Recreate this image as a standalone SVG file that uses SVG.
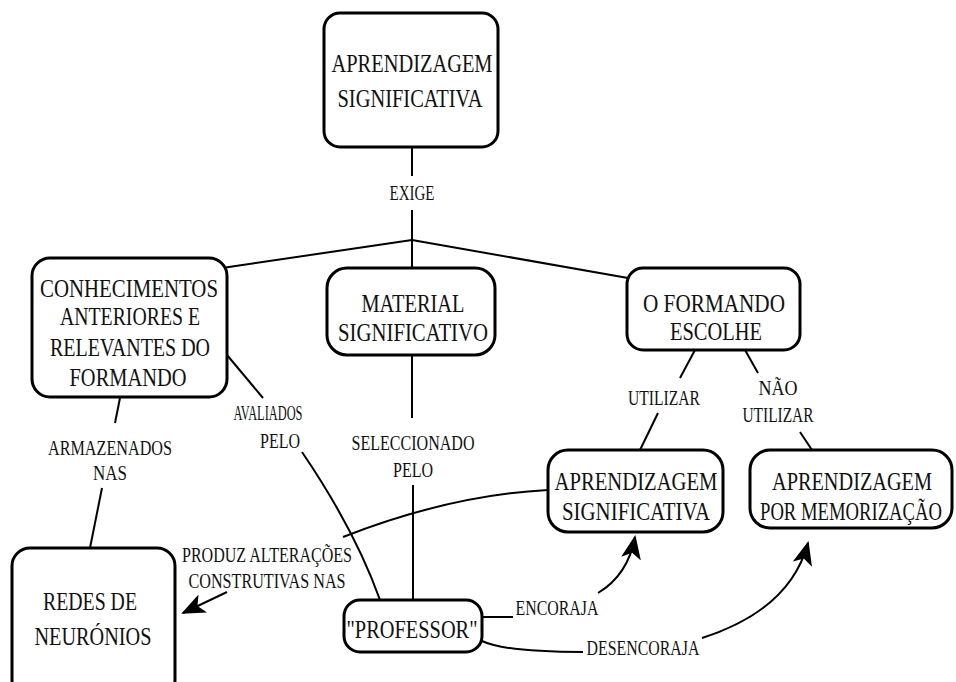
<svg xmlns="http://www.w3.org/2000/svg" width="956" height="682" viewBox="0 0 956 682">
<defs>
<marker id="ah" markerUnits="userSpaceOnUse" markerWidth="24" markerHeight="20" refX="22" refY="10" orient="auto">
<path d="M0,0 L24,10 L0,20 L6,10 Z" fill="#000"/>
</marker>
<style>
.box{fill:#fff;stroke:#000;stroke-width:3}
.bt{font-family:"Liberation Serif",serif;font-size:26px;fill:#111;text-anchor:middle}
.bs{font-family:"Liberation Serif",serif;font-size:21px;fill:#111;text-anchor:middle}
.bx{font-family:"Liberation Serif",serif;font-size:19px;fill:#111;text-anchor:middle}
.lt{font-family:"Liberation Serif",serif;font-size:20px;fill:#111;text-anchor:middle}
.ln{fill:none;stroke:#000;stroke-width:2}
</style>
</defs>
<rect width="956" height="682" fill="#fff"/>
<g id="connectors">
<path class="ln" d="M412,147 L412,176"/>
<path class="ln" d="M412,210 L412,240"/>
<path class="ln" d="M412,240 L222,268"/>
<path class="ln" d="M412,240 L412,268"/>
<path class="ln" d="M412,240 L628,278"/>
<path class="ln" d="M120,398 L115,423"/>
<path class="ln" d="M102,488 L90,548"/>
<path class="ln" d="M227,355 L263,398"/>
<path class="ln" d="M302,452 Q355,530 380,600"/>
<path class="ln" d="M412,355 L412,418"/>
<path class="ln" d="M413,485 L413,600"/>
<path class="ln" d="M695,350 L680,378"/>
<path class="ln" d="M658,413 L640,450"/>
<path class="ln" d="M745,350 L758,373"/>
<path class="ln" d="M800,432 L812,450"/>
<path class="ln" d="M548,490 Q450,495 343,537"/>
<path class="ln" d="M227,592 L183,613" marker-end="url(#ah)"/>
<path class="ln" d="M482,617 L513,617"/>
<path class="ln" d="M598,593 Q628,575 635,537" marker-end="url(#ah)"/>
<path class="ln" d="M482,641 Q505,652 583,652"/>
<path class="ln" d="M702,638 Q790,610 808,543" marker-end="url(#ah)"/>
</g>
<g id="labels">
<text class="lt" x="412" y="200" textLength="45" lengthAdjust="spacingAndGlyphs">EXIGE</text>
<text class="lt" x="110" y="455" textLength="124" lengthAdjust="spacingAndGlyphs">ARMAZENADOS</text>
<text class="lt" x="110" y="480" textLength="34" lengthAdjust="spacingAndGlyphs">NAS</text>
<text class="lt" x="268" y="420" textLength="69" lengthAdjust="spacingAndGlyphs">AVALIADOS</text>
<text class="lt" x="280" y="448" textLength="40" lengthAdjust="spacingAndGlyphs">PELO</text>
<text class="lt" x="413" y="450" textLength="123" lengthAdjust="spacingAndGlyphs">SELECCIONADO</text>
<text class="lt" x="413" y="477" textLength="40" lengthAdjust="spacingAndGlyphs">PELO</text>
<text class="lt" x="664" y="405" textLength="72" lengthAdjust="spacingAndGlyphs">UTILIZAR</text>
<text class="lt" x="778" y="395" textLength="39" lengthAdjust="spacingAndGlyphs">NÃO</text>
<text class="lt" x="778" y="422" textLength="71" lengthAdjust="spacingAndGlyphs">UTILIZAR</text>
<text class="lt" x="267" y="562" textLength="170" lengthAdjust="spacingAndGlyphs">PRODUZ ALTERAÇÕES</text>
<text class="lt" x="267" y="588" textLength="157" lengthAdjust="spacingAndGlyphs">CONSTRUTIVAS NAS</text>
<text class="lt" x="557" y="615" textLength="83" lengthAdjust="spacingAndGlyphs">ENCORAJA</text>
<text class="lt" x="643" y="655" textLength="113" lengthAdjust="spacingAndGlyphs">DESENCORAJA</text>
</g>
<g id="n-top">
<rect class="box" x="324" y="13" width="174" height="134" rx="16"/>
<text class="bt" x="412" y="72" textLength="161" lengthAdjust="spacingAndGlyphs">APRENDIZAGEM</text>
<text class="bt" x="410" y="107" textLength="145" lengthAdjust="spacingAndGlyphs">SIGNIFICATIVA</text>
</g>
<g id="n-conhecimentos">
<rect class="box" x="32" y="258" width="195" height="139" rx="18"/>
<text class="bt" x="129" y="297" textLength="178" lengthAdjust="spacingAndGlyphs">CONHECIMENTOS</text>
<text class="bt" x="130" y="325" textLength="140" lengthAdjust="spacingAndGlyphs">ANTERIORES E</text>
<text class="bt" x="130" y="356" textLength="160" lengthAdjust="spacingAndGlyphs">RELEVANTES DO</text>
<text class="bt" x="128" y="386" textLength="117" lengthAdjust="spacingAndGlyphs">FORMANDO</text>
</g>
<g id="n-material">
<rect class="box" x="327" y="268" width="168" height="87" rx="20"/>
<text class="bt" x="413" y="312" textLength="103" lengthAdjust="spacingAndGlyphs">MATERIAL</text>
<text class="bt" x="413" y="341" textLength="150" lengthAdjust="spacingAndGlyphs">SIGNIFICATIVO</text>
</g>
<g id="n-escolhe">
<rect class="box" x="627" y="268" width="173" height="82" rx="16"/>
<text class="bt" x="714" y="312" textLength="142" lengthAdjust="spacingAndGlyphs">O FORMANDO</text>
<text class="bt" x="716" y="340" textLength="92" lengthAdjust="spacingAndGlyphs">ESCOLHE</text>
</g>
<g id="n-significativa">
<rect class="box" x="548" y="450" width="175" height="82" rx="20"/>
<text class="bt" x="636" y="490" textLength="163" lengthAdjust="spacingAndGlyphs">APRENDIZAGEM</text>
<text class="bt" x="636" y="520" textLength="148" lengthAdjust="spacingAndGlyphs">SIGNIFICATIVA</text>
</g>
<g id="n-memorizacao">
<rect class="box" x="750" y="450" width="202" height="78" rx="20"/>
<text class="bs" transform="translate(852,490) scale(1,1.24)" x="0" y="0" textLength="160" lengthAdjust="spacingAndGlyphs">APRENDIZAGEM</text>
<text class="bx" transform="translate(851,520) scale(1,1.37)" x="0" y="0" textLength="182" lengthAdjust="spacingAndGlyphs">POR MEMORIZAÇÃO</text>
</g>
<g id="n-redes">
<rect class="box" x="12" y="548" width="163" height="150" rx="18"/>
<text class="bt" x="90" y="610" textLength="94" lengthAdjust="spacingAndGlyphs">REDES DE</text>
<text class="bt" x="93" y="645" textLength="117" lengthAdjust="spacingAndGlyphs">NEURÓNIOS</text>
</g>
<g id="n-professor">
<rect class="box" x="344" y="600" width="138" height="52" rx="16"/>
<text class="bt" x="412" y="638" textLength="131" lengthAdjust="spacingAndGlyphs">"PROFESSOR"</text>
</g>
</svg>
